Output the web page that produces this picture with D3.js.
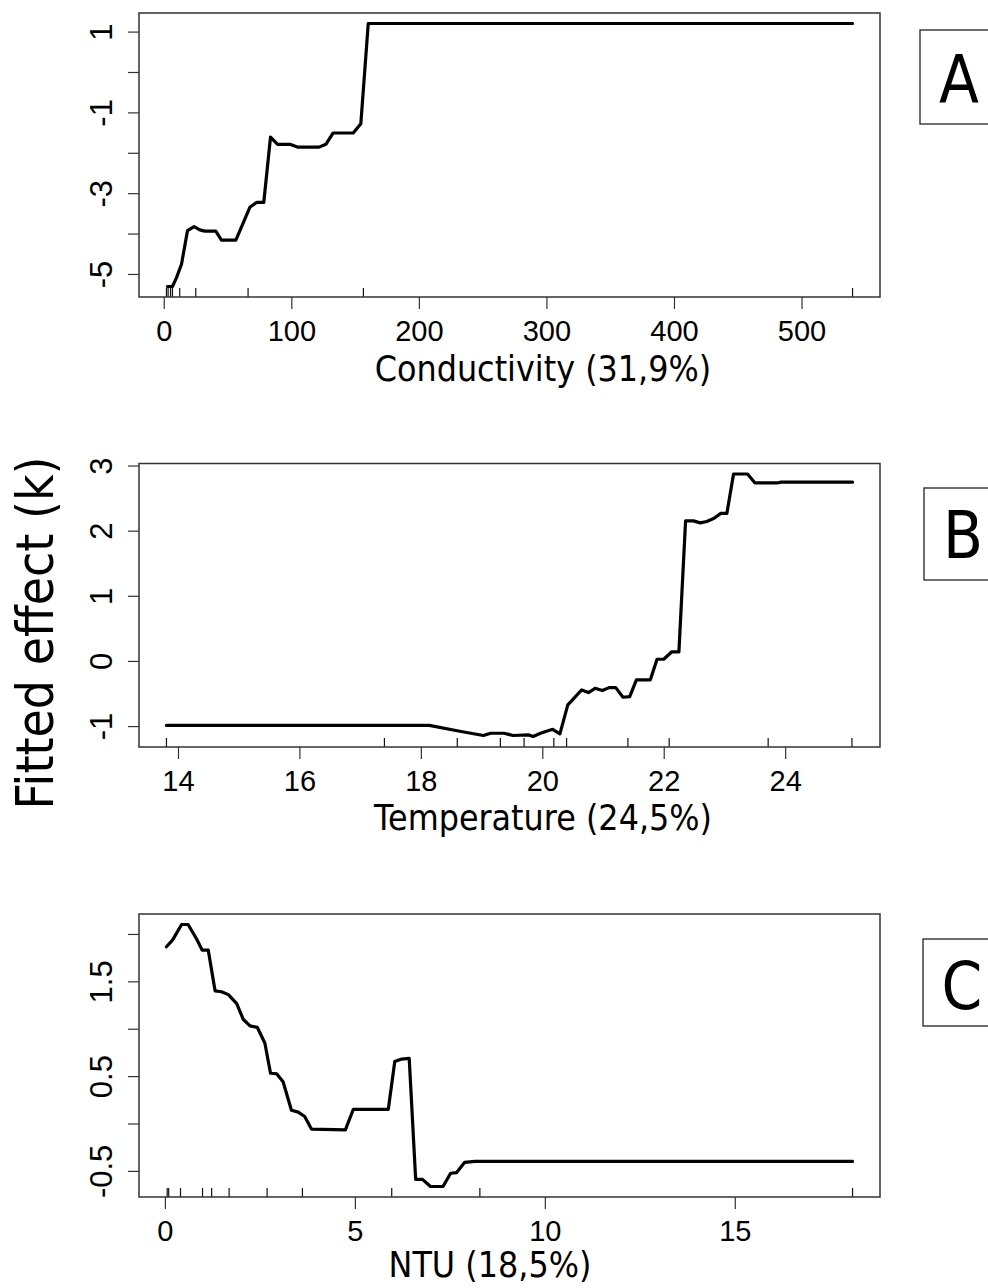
<!DOCTYPE html>
<html>
<head>
<meta charset="utf-8">
<script src="https://cdn.jsdelivr.net/npm/d3@7"></script>
<style>
  html, body { margin: 0; padding: 0; background: #fff; }
  svg { display: block; }
</style>
</head>
<body>
<script>
// Partial dependence curves (fitted effect) for three predictors.

// Panel A: conductivity
const condX = [2.9, 6.8, 10.0, 13.9, 18.6, 23.8, 28.2, 32.2, 40.8, 45.2, 56.5, 67.5, 72.7, 78.4, 83.7, 89.2, 98.8, 104.8, 121.8, 127.1, 132.8, 148.5, 154.5, 160.3, 540];
const condY = [-5.31, -5.31, -5.09, -4.76, -3.93, -3.83, -3.91, -3.94, -3.94, -4.16, -4.16, -3.35, -3.23, -3.23, -1.61, -1.79, -1.79, -1.86, -1.86, -1.79, -1.51, -1.51, -1.28, 1.2, 1.2];
const condRug = [2.1, 3.4, 5.3, 6.8, 12.5, 25.1, 66.1, 156.5, 540];
const condXTicks = [0, 100, 200, 300, 400, 500];
const condYTicks = [-5, -4, -3, -2, -1, 0, 1];
const condYLabels = [-5, -3, -1, 1];

// Panel B: temperature
const tempX = [13.81, 18.14, 18.64, 19.03, 19.15, 19.37, 19.52, 19.77, 19.85, 19.97, 20.17, 20.29, 20.42, 20.65, 20.76, 20.87, 20.99, 21.1, 21.21, 21.33, 21.44, 21.55, 21.78, 21.89, 22.0, 22.13, 22.25, 22.36, 22.49, 22.6, 22.71, 22.83, 22.94, 23.04, 23.15, 23.38, 23.5, 23.89, 23.93, 25.11];
const tempY = [-0.99, -0.99, -1.08, -1.145, -1.11, -1.11, -1.145, -1.135, -1.16, -1.11, -1.05, -1.12, -0.675, -0.445, -0.485, -0.42, -0.455, -0.41, -0.41, -0.557, -0.547, -0.29, -0.29, 0.026, 0.026, 0.138, 0.138, 2.15, 2.15, 2.12, 2.14, 2.19, 2.265, 2.265, 2.87, 2.87, 2.735, 2.735, 2.745, 2.745];
const tempRug = [13.81, 17.40, 18.60, 19.31, 19.70, 20.19, 20.40, 21.41, 22.09, 23.72, 25.10];
const tempXTicks = [14, 16, 18, 20, 22, 24];
const tempYTicks = [-1, 0, 1, 2, 3];
const tempYLabels = [-1, 0, 1, 2, 3];

// Panel C: turbidity
const ntuX = [0.04, 0.2, 0.44, 0.61, 0.83, 0.98, 1.14, 1.32, 1.49, 1.67, 1.89, 2.06, 2.24, 2.43, 2.63, 2.78, 2.94, 3.11, 3.33, 3.51, 3.68, 3.86, 4.75, 4.96, 5.88, 6.05, 6.23, 6.43, 6.6, 6.78, 6.99, 7.32, 7.52, 7.68, 7.89, 8.16, 18.1];
const ntuY = [1.865, 1.935, 2.1, 2.1, 1.95, 1.83, 1.83, 1.40, 1.39, 1.36, 1.265, 1.10, 1.03, 1.015, 0.85, 0.53, 0.525, 0.44, 0.14, 0.12, 0.074, -0.06, -0.067, 0.15, 0.15, 0.655, 0.68, 0.687, -0.59, -0.59, -0.665, -0.665, -0.525, -0.518, -0.41, -0.40, -0.40];
const ntuRug = [0.06, 0.1, 0.41, 0.99, 1.23, 1.69, 2.69, 3.62, 5.97, 8.29, 18.1];
const ntuXTicks = [0, 5, 10, 15];
const ntuYTicks = [-0.5, 0, 0.5, 1, 1.5, 2];
const ntuYLabels = [-0.5, 0.5, 1.5];

const titles = ["Conductivity (31,9%)", "Temperature (24,5%)", "NTU (18,5%)"];
const letters = ["A", "B", "C"];
const yTitle = "Fitted effect (k)";

// ---- layout ----
const W = 988, H = 1288;
const left = 139, right = 880;
const layout = [
  { top: 13,    bottom: 297,  titleX: 543, titleY: 381,  box: [920, 30, 94],  letterX: 959, letterY: 102 },
  { top: 463.5, bottom: 747,  titleX: 543, titleY: 830,  box: [924, 488, 92], letterX: 963, letterY: 558 },
  { top: 914,   bottom: 1197, titleX: 490, titleY: 1277, box: [923, 939, 87], letterX: 962, letterY: 1009 }
];
const panels = [
  { xs: condX, ys: condY, rug: condRug, xt: condXTicks, yt: condYTicks, yl: condYLabels },
  { xs: tempX, ys: tempY, rug: tempRug, xt: tempXTicks, yt: tempYTicks, yl: tempYLabels },
  { xs: ntuX,  ys: ntuY,  rug: ntuRug,  xt: ntuXTicks,  yt: ntuYTicks,  yl: ntuYLabels }
];

const tickFont = "'Liberation Sans', Arial, sans-serif";
const titleFont = "'DejaVu Sans', Verdana, sans-serif";
const squeeze = 0.885;

const svg = d3.select("body").append("svg")
  .attr("width", W).attr("height", H)
  .attr("viewBox", `0 0 ${W} ${H}`);
svg.append("rect").attr("width", W).attr("height", H).attr("fill", "#fff");

// pad a data extent by 4% on both sides, like base R plotting
function padded(values) {
  const [a, b] = d3.extent(values);
  const d = (b - a) * 0.04;
  return [a - d, b + d];
}

function squeezeText(sel) {
  sel.each(function () {
    const len = this.getComputedTextLength();
    d3.select(this).attr("textLength", len * squeeze).attr("lengthAdjust", "spacingAndGlyphs");
  });
}

panels.forEach((p, i) => {
  const L = layout[i];
  const x = d3.scaleLinear().domain(padded(p.xs.concat(p.rug))).range([left, right]);
  const y = d3.scaleLinear().domain(padded(p.ys)).range([L.bottom, L.top]);
  const g = svg.append("g");

  // x axis
  const xa = g.append("g")
    .attr("transform", `translate(0,${L.bottom})`)
    .call(d3.axisBottom(x).tickValues(p.xt).tickSize(12).tickSizeOuter(0).tickFormat(d3.format("d")));
  xa.select(".domain").remove();
  xa.selectAll("line").attr("stroke", "#333").attr("stroke-width", 1.2);
  xa.selectAll("text")
    .attr("y", 44).attr("dy", 0)
    .attr("fill", "#000")
    .style("font-family", tickFont).style("font-size", "29px");

  // y axis with rotated labels
  const ya = g.append("g")
    .attr("transform", `translate(${left},0)`)
    .call(d3.axisLeft(y).tickValues(p.yt).tickSize(11).tickSizeOuter(0)
      .tickFormat(v => p.yl.includes(v) ? String(v) : ""));
  ya.select(".domain").remove();
  ya.selectAll("line").attr("stroke", "#333").attr("stroke-width", 1.2);
  ya.selectAll("text")
    .attr("transform", "rotate(-90)")
    .attr("x", 0).attr("y", -27).attr("dy", 0)
    .attr("text-anchor", "middle")
    .attr("fill", "#000")
    .style("font-family", tickFont).style("font-size", "31px");

  // rug marks along the bottom of the frame
  g.append("g").selectAll("line").data(p.rug).join("line")
    .attr("x1", d => x(d)).attr("x2", d => x(d))
    .attr("y1", L.bottom).attr("y2", L.bottom - 9)
    .attr("stroke", "#111").attr("stroke-width", 1.2);

  // fitted curve
  const pts = p.xs.map((v, k) => [v, p.ys[k]]);
  g.append("path")
    .datum(pts)
    .attr("d", d3.line().x(d => x(d[0])).y(d => y(d[1])))
    .attr("fill", "none").attr("stroke", "#000")
    .attr("stroke-width", 3.2).attr("stroke-linejoin", "round").attr("stroke-linecap", "round");

  // frame
  g.append("rect")
    .attr("x", left).attr("y", L.top)
    .attr("width", right - left).attr("height", L.bottom - L.top)
    .attr("fill", "none").attr("stroke", "#333").attr("stroke-width", 1.5);

  // x title
  g.append("text")
    .attr("x", L.titleX).attr("y", L.titleY)
    .attr("text-anchor", "middle")
    .style("font-family", titleFont).style("font-size", "36px")
    .attr("fill", "#000")
    .text(titles[i])
    .call(squeezeText);

  // panel letter in a box
  const [bx, by, bh] = L.box;
  g.append("rect")
    .attr("x", bx).attr("y", by).attr("width", 120).attr("height", bh)
    .attr("fill", "#fff").attr("stroke", "#222").attr("stroke-width", 1.3);
  g.append("text")
    .attr("x", L.letterX).attr("y", L.letterY)
    .attr("text-anchor", "middle")
    .style("font-family", titleFont).style("font-size", "66px")
    .attr("fill", "#000")
    .text(letters[i])
    .call(squeezeText);
});

// shared y title
svg.append("text")
  .attr("transform", "translate(53,633) rotate(-90)")
  .attr("text-anchor", "middle")
  .style("font-family", titleFont).style("font-size", "52px")
  .attr("fill", "#000")
  .text(yTitle)
  .call(squeezeText);
</script>
</body>
</html>
